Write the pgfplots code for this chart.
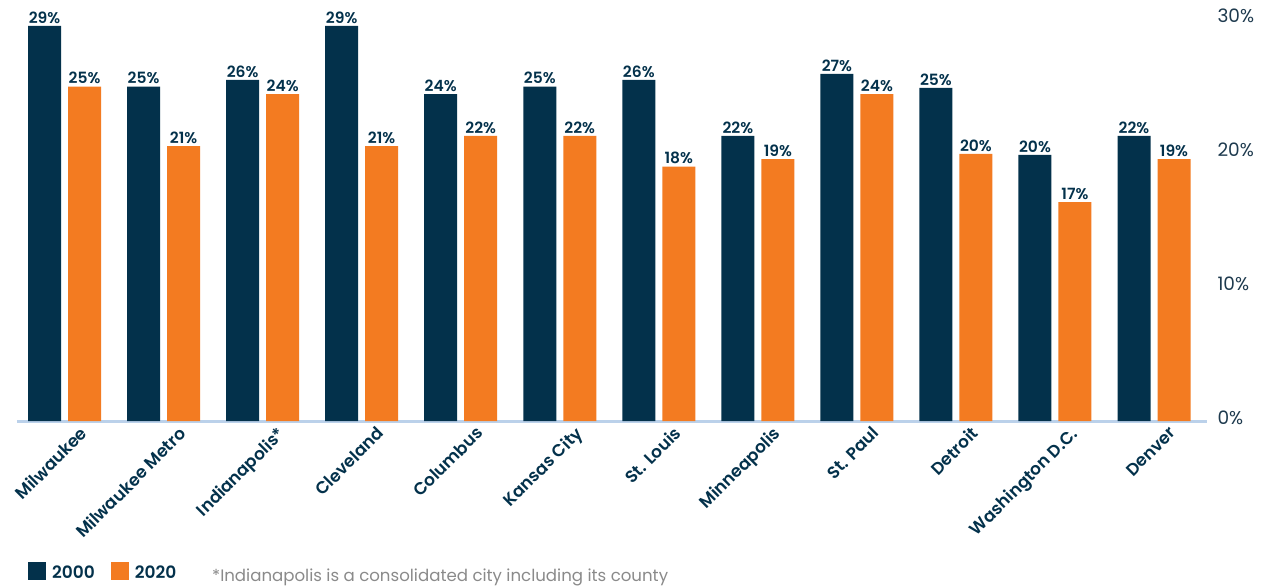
\documentclass[border=0pt]{standalone}
\usepackage{pgfplots}
\pgfplotsset{compat=1.18}
\usepackage{pgfplotstable}
\usepackage{fontspec}
\setmainfont{Poppins}[BoldFont={Poppins SemiBold}]
\definecolor{navy}{HTML}{03314B}
\definecolor{orng}{HTML}{F37B21}
\definecolor{base}{HTML}{BBD1EA}
\definecolor{note}{HTML}{8A8A8A}
\definecolor{ticktxt}{HTML}{1E3A4E}

\pgfplotstableread{
x  a      la  b      lb
0  29.48  29  24.95  25
1  24.95  25  20.52  21
2  25.45  26  24.40  24
3  29.48  29  20.52  21
4  24.40  24  21.27  22
5  24.95  25  21.27  22
6  25.45  26  18.98  18
7  21.27  22  19.55  19
8  25.90  27  24.40  24
9  24.85  25  19.93  20
10 19.85  20  16.34  17
11 21.27  22  19.55  19
}\data

\begin{document}
\begin{tikzpicture}
\useasboundingbox (-17pt,-165pt) rectangle (1249pt,421pt);
\begin{axis}[
  scale only axis,
  width=1190pt, height=420.8pt,
  xmin=-0.48, xmax=11.535,
  ymin=0, ymax=31.4,
  enlargelimits=false,
  clip=false,
  ybar=7pt, bar width=33pt,
  separate axis lines,
  axis x line*=bottom,
  x axis line style={color=base, line width=3pt, -},
  axis y line*=right,
  y axis line style={draw=none},
  major tick length=0pt,
  xtick={0,...,11},
  xticklabels={Milwaukee, Milwaukee Metro, Indianapolis*, Cleveland, Columbus, Kansas City, St. Louis, Minneapolis, St. Paul, Detroit, Washington D.C., Denver},
  xticklabel style={rotate=45, anchor=north east, xshift=8pt, yshift=-12pt,
    font=\bfseries\fontsize{17}{19}\selectfont, text=navy, inner sep=1pt},
  ytick={0,10,20,30},
  yticklabel={\pgfmathprintnumber{\tick}\%},
  yticklabel style={font=\fontsize{18.5}{20}\selectfont, text=ticktxt, anchor=west, xshift=7pt, yshift=3pt},
  /pgf/number format/assume math mode=true,
  nodes near coords={\pgfmathprintnumber{\pgfplotspointmeta}\%},
  point meta=explicit,
  every node near coord/.append style={font=\bfseries\fontsize{15.5}{17}\selectfont, text=navy, inner sep=2.5pt},
  legend style={at={(0,0)}, anchor=south west, xshift=11pt, yshift=-161pt,
    draw=none, fill=none, inner sep=0pt, legend columns=-1,
    font=\bfseries\fontsize{17}{19}\selectfont, text=navy,
    /tikz/every odd column/.append style={column sep=4pt},
    /tikz/every even column/.append style={column sep=14pt}},
]
\addplot[fill=navy, draw=none, legend image code/.code={\fill[navy] (0pt,-7pt) rectangle (18pt,11pt);}] table[x=x, y=a, meta=la] {\data};
\addlegendentry{2000}
\addplot[fill=orng, draw=none, legend image code/.code={\fill[orng] (0pt,-7pt) rectangle (18pt,11pt);}] table[x=x, y=b, meta=lb] {\data};
\addlegendentry{2020}
\end{axis}
\node[anchor=base west, font=\fontsize{16.6}{18}\selectfont, text=note, inner sep=0pt] at (195pt,-160pt) {*Indianapolis is a consolidated city including its county};
\end{tikzpicture}
\end{document}
